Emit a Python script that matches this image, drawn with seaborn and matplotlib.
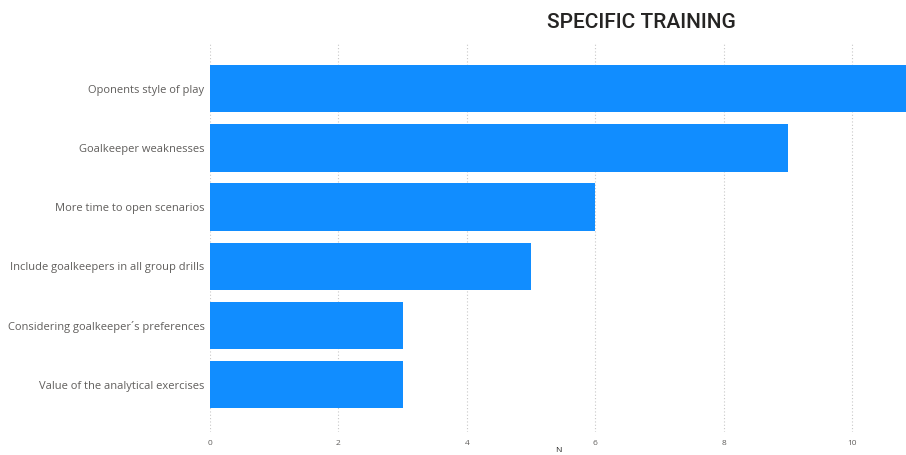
import numpy as np
import pandas as pd
import matplotlib
matplotlib.use('Agg')
import matplotlib.pyplot as plt
import seaborn as sns

# dados
categorias = ['Oponents style of play',
              'Goalkeeper weaknesses',
              'More time to open scenarios',
              'Include goalkeepers in all group drills',
              'Considering goalkeeper´s preferences',
              'Value of the analytical exercises']
valores = [11, 9, 6, 5, 3, 3]
ticks_x = [0, 2, 4, 6, 8, 10]

Base_Dados = pd.DataFrame({'Categoria': categorias, 'N': valores})

sns.set_style('white')
plt.rcParams['font.family'] = ['Open Sans', 'DejaVu Sans']

fig = plt.figure(figsize=(9.06, 4.55), dpi=100)
ax = fig.add_axes([210/906, 1 - 432/455, 1 - 210/906, (432 - 42)/455])

sns.barplot(data=Base_Dados, x='N', y='Categoria', color='#118DFF',
            saturation=1, width=0.8, linewidth=0, ax=ax)

ax.set_xlim(0, 10.84)
ax.set_ylim(5.8, -0.79)
ax.set_xticks(ticks_x)
ax.set_xticklabels([str(t) for t in ticks_x])
ax.tick_params(axis='x', labelsize=6, colors='#605E5C', length=0, pad=6)
ax.tick_params(axis='y', labelsize=8, colors='#605E5C', length=0, pad=4)
ax.set_ylabel('')
ax.set_xlabel('N', fontsize=6, color='#252423', labelpad=0)
ax.xaxis.grid(True, linestyle=(0, (1, 2)), color='#C8C8C8', linewidth=0.8)
ax.set_axisbelow(True)
for s in ax.spines.values():
    s.set_visible(False)

fig.text(641/906, 1 - 22/455, 'SPECIFIC TRAINING', ha='center', va='center',
         fontsize=15, color='#252423', family=['Roboto', 'DejaVu Sans'],
         fontweight='medium')

plt.savefig('out.png', dpi=100)
